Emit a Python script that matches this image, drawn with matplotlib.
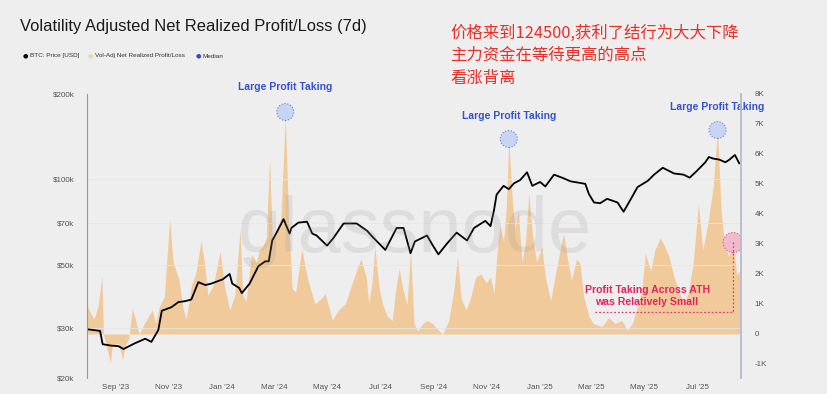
import numpy as np
import pandas as pd
import matplotlib
matplotlib.use("Agg")
import matplotlib.pyplot as plt
import matplotlib.dates as mdates
from matplotlib.ticker import FixedLocator, NullLocator

# BTC price (USD)
price_dates = ["2023-07-30", "2023-08-14", "2023-08-17", "2023-08-27", "2023-09-04", "2023-09-10",
               "2023-09-23", "2023-10-05", "2023-10-12", "2023-10-20", "2023-10-24", "2023-11-04",
               "2023-11-12", "2023-11-20", "2023-11-27", "2023-12-05", "2023-12-13", "2023-12-20",
               "2024-01-02", "2024-01-10", "2024-01-13", "2024-01-21", "2024-01-24", "2024-02-02",
               "2024-02-12", "2024-02-20", "2024-02-24", "2024-02-28", "2024-03-04", "2024-03-12",
               "2024-03-19", "2024-03-21", "2024-03-29", "2024-04-08", "2024-04-14", "2024-04-19",
               "2024-05-01", "2024-05-08", "2024-05-20", "2024-06-04", "2024-06-16", "2024-06-23",
               "2024-07-07", "2024-07-20", "2024-07-28", "2024-08-05", "2024-08-10", "2024-08-24",
               "2024-08-30", "2024-09-06", "2024-09-16", "2024-09-27", "2024-10-09", "2024-10-17",
               "2024-10-30", "2024-11-05", "2024-11-09", "2024-11-12", "2024-11-20", "2024-11-26",
               "2024-12-02", "2024-12-09", "2024-12-17", "2024-12-23", "2025-01-01", "2025-01-07",
               "2025-01-17", "2025-01-28", "2025-02-05", "2025-02-14", "2025-02-22", "2025-02-26",
               "2025-03-04", "2025-03-11", "2025-03-19", "2025-03-31", "2025-04-07", "2025-04-15",
               "2025-04-23", "2025-05-05", "2025-05-12", "2025-05-22", "2025-06-04", "2025-06-15",
               "2025-06-22", "2025-06-30", "2025-07-10", "2025-07-14", "2025-07-19", "2025-07-26",
               "2025-08-02", "2025-08-06", "2025-08-13", "2025-08-18"]
price_usd = [29700, 29300, 26300, 26000, 25900, 25300,
             26500, 27500, 26800, 29500, 34500, 35500,
             37000, 37300, 37800, 43500, 42500, 43000,
             44500, 46500, 43000, 41500, 39800, 43000,
             49500, 51500, 51500, 61000, 65000, 72500,
             64500, 67500, 70500, 71000, 64500, 63500,
             58500, 62000, 70000, 70000, 66000, 62500,
             56500, 67500, 67500, 55000, 60500, 63500,
             59000, 54500, 59500, 65000, 61000, 67500,
             71500, 68500, 78000, 88500, 95000, 92500,
             97000, 99500, 106000, 95000, 98000, 94500,
             104000, 101000, 98500, 97500, 96500, 89000,
             83000, 82500, 85500, 83000, 77000, 85000,
             94000, 99000, 104000, 110000, 105000, 104000,
             101500, 107000, 115000, 120000, 118500, 117500,
             115000, 117000, 122000, 114000]

# Vol-Adj Net Realized Profit/Loss (thousands)
nrpl_dates = ["2023-07-30", "2023-08-02", "2023-08-07", "2023-08-12", "2023-08-16", "2023-08-18",
              "2023-08-22", "2023-08-26", "2023-08-28", "2023-09-04", "2023-09-09", "2023-09-12",
              "2023-09-16", "2023-09-20", "2023-09-24", "2023-09-28", "2023-10-03", "2023-10-07",
              "2023-10-13", "2023-10-17", "2023-10-21", "2023-10-27", "2023-11-02", "2023-11-06",
              "2023-11-10", "2023-11-13", "2023-11-17", "2023-11-21", "2023-11-27", "2023-12-02",
              "2023-12-08", "2023-12-12", "2023-12-16", "2023-12-22", "2023-12-30", "2024-01-04",
              "2024-01-10", "2024-01-16", "2024-01-22", "2024-01-25", "2024-01-29", "2024-02-04",
              "2024-02-10", "2024-02-13", "2024-02-17", "2024-02-21", "2024-02-25", "2024-02-28",
              "2024-03-03", "2024-03-09", "2024-03-14", "2024-03-18", "2024-03-22", "2024-03-26",
              "2024-04-02", "2024-04-06", "2024-04-10", "2024-04-17", "2024-04-25", "2024-04-29",
              "2024-05-07", "2024-05-14", "2024-05-22", "2024-05-30", "2024-06-05", "2024-06-09",
              "2024-06-15", "2024-06-18", "2024-06-22", "2024-06-25", "2024-06-30", "2024-07-04",
              "2024-07-09", "2024-07-15", "2024-07-19", "2024-07-23", "2024-07-27", "2024-08-01",
              "2024-08-05", "2024-08-09", "2024-08-13", "2024-08-19", "2024-08-24", "2024-08-30",
              "2024-09-07", "2024-09-11", "2024-09-18", "2024-09-24", "2024-09-28", "2024-10-02",
              "2024-10-08", "2024-10-13", "2024-10-19", "2024-10-25", "2024-10-31", "2024-11-05",
              "2024-11-09", "2024-11-13", "2024-11-16", "2024-11-20", "2024-11-23", "2024-11-26",
              "2024-11-30", "2024-12-03", "2024-12-07", "2024-12-11", "2024-12-15", "2024-12-19",
              "2024-12-23", "2024-12-28", "2025-01-03", "2025-01-07", "2025-01-13", "2025-01-18",
              "2025-01-24", "2025-01-28", "2025-02-01", "2025-02-06", "2025-02-12", "2025-02-16",
              "2025-02-20", "2025-02-26", "2025-03-03", "2025-03-13", "2025-03-21", "2025-03-28",
              "2025-04-05", "2025-04-11", "2025-04-17", "2025-04-22", "2025-04-28", "2025-05-02",
              "2025-05-08", "2025-05-13", "2025-05-19", "2025-05-23", "2025-05-29", "2025-06-04",
              "2025-06-09", "2025-06-15", "2025-06-20", "2025-06-26", "2025-07-02", "2025-07-07",
              "2025-07-13", "2025-07-19", "2025-07-24", "2025-07-28", "2025-08-01", "2025-08-06",
              "2025-08-11", "2025-08-15", "2025-08-19"]
nrpl_k = [1.0, 0.75, 0.5, 0.95, 1.95, 0.0,
          -0.5, -0.95, -0.4, -0.3, -0.85, -0.4,
          -0.15, 0.85, 0.45, 0.0, 0.3, 0.5,
          0.8, 0.35, 0.9, 1.25, 3.85, 2.4,
          2.05, 1.8, 0.9, 0.5, 1.6, 2.0,
          3.1, 2.4, 1.3, 1.6, 2.75, 1.6,
          0.8, 1.3, 3.5, 1.3, 1.1, 2.65,
          2.4, 2.8, 2.9, 3.2, 5.85, 3.2,
          3.4, 3.9, 7.25, 3.6, 1.5, 1.4,
          2.85, 2.2, 1.7, 1.0, 1.2, 1.35,
          0.45, 0.8, 1.0, 1.7, 2.2, 2.5,
          1.9, 1.0, 1.8, 2.9, 1.5, 1.0,
          0.6, 0.45, 1.5, 2.2, 1.5, 1.0,
          2.8, 0.35, 0.1, 0.35, 0.45, 0.35,
          0.1, 0.0, 0.45, 1.5, 2.6, 1.2,
          0.8, 1.2, 1.9, 2.0, 1.7, 1.9,
          1.35, 2.9, 3.6, 3.1, 4.2, 6.45,
          4.5, 3.5, 4.1, 2.4, 3.0, 4.7,
          3.35, 2.4, 2.9, 1.9, 1.1, 1.9,
          2.8, 3.35, 2.6, 1.8, 2.5, 2.35,
          1.25, 0.6, 0.35, 0.25, 0.55, 0.35,
          0.45, 0.13, 0.35, 0.8, 1.45, 2.7,
          2.1, 2.8, 3.2, 3.0, 2.6, 1.9,
          1.5, 1.0, 1.35, 2.35, 4.35, 2.8,
          3.7, 4.9, 6.8, 4.2, 2.9, 2.6,
          3.0, 2.0, 2.1]

# annotated points
big_dates = ["2024-03-14", "2024-11-26", "2025-07-24"]
big_vals = [7.4, 6.5, 6.8]
ath_date = "2025-08-11"
ath_val = 3.05
box_left = "2025-03-03"
box_low = 0.72

price_x = pd.to_datetime(price_dates)
nrpl_x = pd.to_datetime(nrpl_dates)
nrpl_y = np.array(nrpl_k) * 1000

bg = "#eeeeee"
orange = "#f2c898"
blue_txt = "#3553cc"
pink = "#e2245e"
tick_c = "#555555"

plt.rcParams['font.family'] = ['Liberation Sans', 'DejaVu Sans']

fig = plt.figure(figsize=(8.28, 3.94), dpi=100, facecolor=bg)
ax_n = fig.add_axes([87 / 828, 1 - 378 / 394, 654 / 828, 284 / 394])
ax_p = ax_n.twinx()
ax_n.set_zorder(1)
ax_p.set_zorder(2)
ax_n.set_facecolor(bg)
ax_p.patch.set_visible(False)

# NRPL area
ax_n.fill_between(nrpl_x, 0, nrpl_y, color=orange, lw=0, alpha=0.95)
ax_n.set_ylim(-1467, 8000)
ax_n.yaxis.tick_right()
ax_n.set_yticks(np.arange(-1000, 9000, 1000))
ax_n.set_yticklabels(["-1K", "0"] + [f"{k}K" for k in range(1, 9)])

# price line
ax_p.plot(price_x, price_usd, color="black", lw=1.3)
ax_p.set_yscale("log")
ax_p.set_ylim(20000, 200000)
ax_p.yaxis.tick_left()
ax_p.yaxis.set_major_locator(FixedLocator([20000, 30000, 50000, 70000, 100000, 200000]))
ax_p.yaxis.set_minor_locator(NullLocator())
ax_p.set_yticklabels(["$20k", "$30k", "$50k", "$70k", "$100k", "$200k"])

for k in [20000, 30000, 50000, 70000, 100000]:
    ax_p.axhline(k, color="#e6e6e6", lw=0.6, zorder=0)

ax_n.set_xlim(pd.Timestamp("2023-07-30"), pd.Timestamp("2025-08-20"))
ax_n.xaxis.set_major_locator(mdates.MonthLocator(bymonth=[1, 3, 5, 7, 9, 11]))
ax_n.xaxis.set_major_formatter(mdates.DateFormatter("%b '%y"))

for a in (ax_n, ax_p):
    a.tick_params(length=0, labelsize=5.8, colors=tick_c)
    for s in a.spines.values():
        s.set_visible(False)
ax_n.tick_params(axis="y", pad=10)
ax_p.tick_params(axis="y", pad=9)
ax_n.tick_params(axis="x", pad=4)
ax_p.spines["left"].set_visible(True)
ax_p.spines["left"].set_color("#9a9a9a")
ax_p.spines["left"].set_linewidth(0.8)
ax_p.spines["right"].set_visible(True)
ax_p.spines["right"].set_color("#b6bad0")
ax_p.spines["right"].set_linewidth(1.3)

# annotations
bx = pd.to_datetime(big_dates)
ax_n.scatter(bx, np.array(big_vals) * 1000, s=150, facecolor="#c7d4f2",
             edgecolor="#6a80d6", linewidths=0.8, linestyle=":", zorder=5, clip_on=False)
lbl_y = [8230, 7270, 7570]
for d, y in zip(bx, lbl_y):
    ax_n.text(d, y, "Large Profit Taking", color=blue_txt, fontsize=7.5, fontweight="bold",
              ha="center", va="center", clip_on=False, zorder=6)

ax_n.scatter([pd.Timestamp(ath_date)], [ath_val * 1000], s=210, facecolor="#f3b4c9",
             edgecolor="#e0407a", linewidths=0.8, linestyle=":", zorder=5, alpha=0.9)
ax_n.plot([pd.Timestamp(ath_date), pd.Timestamp(ath_date), pd.Timestamp(box_left)],
          [ath_val * 1000, box_low * 1000, box_low * 1000],
          color="#e0407a", lw=0.9, ls=(0, (1.5, 1.5)), zorder=5)
ax_n.text(pd.Timestamp("2025-05-04"), 1250, "Profit Taking Across ATH\nwas Relatively Small",
          color=pink, fontsize=7.6, fontweight="bold", ha="center", va="center",
          linespacing=1.25, zorder=6)

# watermark
fig.text(415 / 828, 1 - 232 / 394, "glassnode", fontsize=56, color="#9a9a9a", alpha=0.2,
         ha="center", va="center", zorder=10)

# title and legend
fig.text(20 / 828, 1 - 27 / 394, "Volatility Adjusted Net Realized Profit/Loss (7d)",
         fontsize=11.9, color="#1a1a1a", ha="left", va="center")
leg = [(25, "black", "BTC: Price [USD]"),
       (90, "#efd6b0", "Vol-Adj Net Realized Profit/Loss"),
       (198, "#3548c8", "Median")]
for x, c, t in leg:
    fig.text(x / 828, 1 - 56 / 394, "\u25cf", color=c, fontsize=4.5, ha="center", va="center",
             family="DejaVu Sans")
    fig.text((x + 5) / 828, 1 - 56 / 394, t, color="#333333", fontsize=4.6, ha="left", va="center")

# red chinese note
note = ["价格来到124500,获利了结行为大大下降", "主力资金在等待更高的高点", "看涨背离"]
for i, line in enumerate(note):
    fig.text(450 / 828, 1 - (33 + i * 22.5) / 394, line, color="#e8302a", fontsize=11.8,
             ha="left", va="center", family=["Noto Sans CJK SC", "DejaVu Sans"])

fig.savefig("out.png", dpi=100, facecolor=bg)
